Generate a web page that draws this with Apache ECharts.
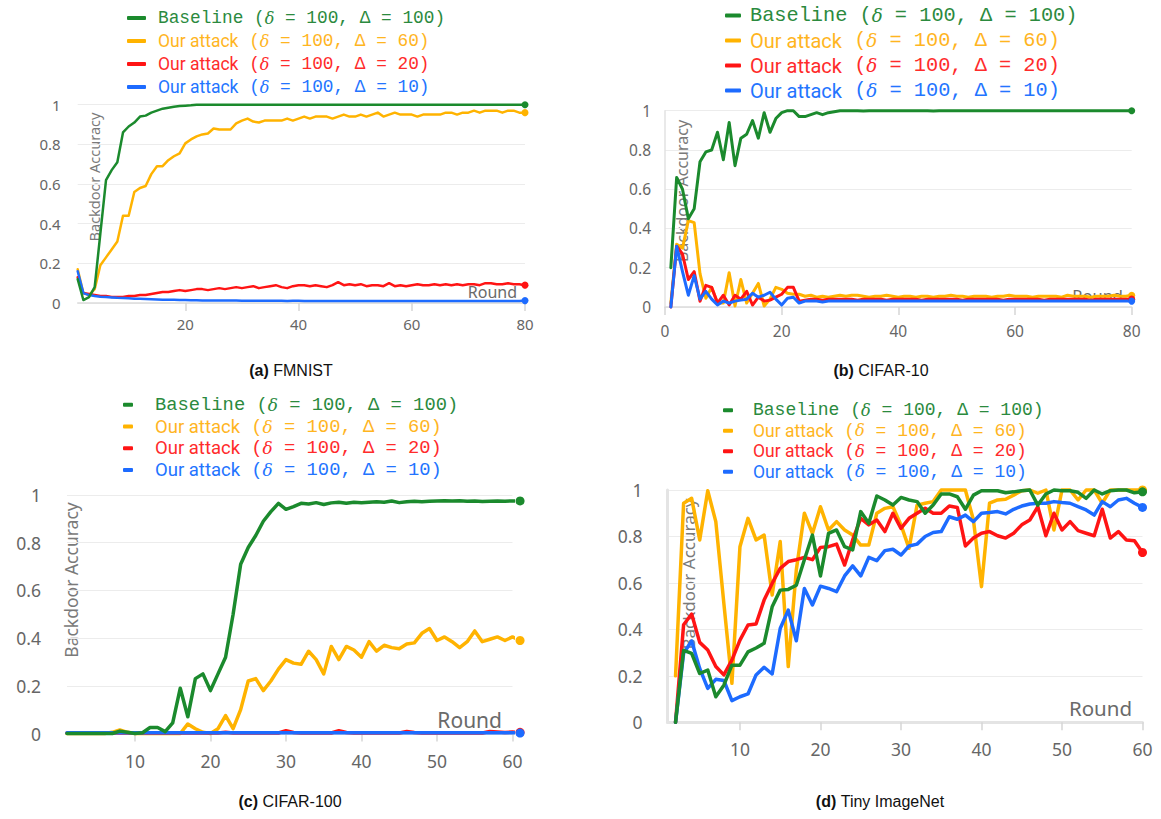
<!DOCTYPE html>
<html>
<head>
<meta charset="utf-8">
<script src="https://cdn.jsdelivr.net/npm/echarts@6/dist/echarts.min.js"></script>
<style>html,body{margin:0;background:#fff}#c{width:1161px;height:819px}</style>
</head>
<body>
<div id="c"></div>
<script>
// 四个子图的数据(按轮次),从原图读出的近似值

const names = ['Baseline (δ = 100, Δ = 100)', 'Our attack (δ = 100, Δ = 60)', 'Our attack (δ = 100, Δ = 20)', 'Our attack (δ = 100, Δ = 10)']
const lineColors = ['#1b8a2d', '#ffb300', '#ff1414', '#1d6bff']
const textColors = ['#2b8a3e', '#ffb51f', '#ff2b2b', '#2374ff']

// (a) FMNIST — rounds 1..80
const fmStart = 1
const fmGreen = [0.12,0.015,0.03,0.08,0.35,0.62,0.67,0.71,0.86,0.89, 0.91,0.94,0.945,0.96,0.97,0.98,0.985,0.99,0.993,0.995, 0.997,1,1,1,1,1,1,1,1,1, 1,1,1,1,1,1,1,1,1,1, 1,1,1,1,1,1,1,1,1,1, 1,1,1,1,1,1,1,1,1,1, 1,1,1,1,1,1,1,1,1,1, 1,1,1,1,1,1,1,1,1,1]
const fmYellow = [0.17,0.05,0.04,0.07,0.19,0.23,0.27,0.31,0.44,0.44, 0.56,0.58,0.59,0.65,0.69,0.69,0.72,0.74,0.755,0.805, 0.825,0.84,0.85,0.855,0.88,0.875,0.875,0.875,0.906,0.92, 0.93,0.915,0.91,0.92,0.92,0.92,0.92,0.93,0.92,0.93, 0.94,0.93,0.94,0.94,0.94,0.93,0.94,0.95,0.94,0.94, 0.95,0.94,0.95,0.96,0.94,0.95,0.96,0.95,0.95,0.95, 0.94,0.95,0.95,0.95,0.95,0.96,0.96,0.95,0.96,0.96, 0.97,0.96,0.97,0.97,0.97,0.96,0.97,0.97,0.96,0.96]
const fmRed = [0.13,0.05,0.045,0.04,0.035,0.035,0.03,0.03,0.03,0.035, 0.035,0.04,0.04,0.045,0.05,0.055,0.055,0.06,0.065,0.06, 0.065,0.07,0.07,0.065,0.07,0.075,0.07,0.075,0.08,0.075, 0.08,0.085,0.075,0.08,0.085,0.09,0.08,0.075,0.085,0.09, 0.09,0.085,0.09,0.085,0.08,0.09,0.105,0.09,0.095,0.09, 0.095,0.085,0.09,0.09,0.085,0.1,0.085,0.09,0.085,0.09, 0.095,0.09,0.09,0.095,0.09,0.095,0.09,0.095,0.09,0.095, 0.095,0.09,0.1,0.1,0.095,0.095,0.1,0.095,0.095,0.09]
const fmBlue = [0.16,0.05,0.04,0.035,0.032,0.03,0.028,0.026,0.025,0.024, 0.022,0.021,0.02,0.019,0.018,0.017,0.016,0.016,0.015,0.015, 0.014,0.014,0.013,0.013,0.013,0.012,0.012,0.012,0.012,0.011, 0.011,0.011,0.011,0.011,0.011,0.011,0.011,0.01,0.011,0.011, 0.01,0.01,0.01,0.01,0.01,0.01,0.01,0.01,0.01,0.01, 0.01,0.01,0.01,0.01,0.01,0.01,0.01,0.01,0.01,0.01, 0.01,0.01,0.01,0.01,0.01,0.01,0.01,0.01,0.01,0.01, 0.01,0.01,0.01,0.01,0.01,0.01,0.01,0.01,0.01,0.012]

// (b) CIFAR-10 — rounds 1..80
const c10Start = 1
const c10Green = [0.2,0.66,0.6,0.45,0.5,0.74,0.79,0.8,0.89,0.75, 0.94,0.72,0.86,0.88,0.95,0.86,0.99,0.89,0.96,0.99, 1,1,0.97,0.97,0.98,0.99,0.98,0.99,0.995,1, 1,1,1,0.998,1,1,1,1,1,1, 1,1,1,1,1,0.998,1,1,1,1, 1,1,1,1,1,1,1,1,1,1, 1,1,1,1,1,1,1,1,1,1, 1,1,1,1,1,1,1,1,1,1]
const c10Yellow = [0.02,0.32,0.3,0.44,0.43,0.17,0.045,0.1,0.02,0.02, 0.175,0.005,0.14,0.02,0.07,0.12,0.005,0.04,0.1,0.09, 0.07,0.065,0.065,0.055,0.06,0.05,0.055,0.05,0.055,0.06, 0.055,0.06,0.06,0.055,0.05,0.055,0.055,0.06,0.055,0.05, 0.055,0.055,0.05,0.055,0.055,0.05,0.055,0.055,0.06,0.055, 0.055,0.05,0.055,0.055,0.055,0.05,0.055,0.055,0.06,0.055, 0.055,0.055,0.05,0.055,0.055,0.055,0.055,0.05,0.06,0.055, 0.055,0.055,0.05,0.055,0.055,0.055,0.06,0.055,0.055,0.06]
const c10Red = [0,0.31,0.27,0.14,0.18,0.03,0.11,0.1,0.02,0.06, 0.01,0.06,0.04,0.08,0.01,0.05,0.03,0.035,0.05,0.065, 0.1,0.1,0.03,0.035,0.04,0.04,0.035,0.04,0.04,0.04, 0.04,0.04,0.035,0.04,0.04,0.04,0.04,0.035,0.04,0.04, 0.04,0.04,0.04,0.035,0.04,0.04,0.04,0.04,0.04,0.04, 0.035,0.04,0.04,0.04,0.04,0.04,0.04,0.035,0.04,0.04, 0.04,0.04,0.04,0.04,0.035,0.04,0.04,0.04,0.04,0.04, 0.04,0.04,0.035,0.04,0.04,0.04,0.04,0.04,0.04,0.04]
const c10Blue = [0,0.31,0.18,0.06,0.16,0.04,0.08,0.04,0.01,0.03, 0.02,0.03,0.035,0.04,0.07,0.05,0.06,0.075,0.04,0.01, 0.045,0.05,0.02,0.03,0.03,0.03,0.025,0.03,0.03,0.03, 0.03,0.03,0.03,0.03,0.03,0.03,0.03,0.03,0.03,0.03, 0.03,0.03,0.03,0.03,0.03,0.03,0.03,0.03,0.03,0.03, 0.03,0.03,0.03,0.03,0.03,0.03,0.03,0.03,0.03,0.03, 0.03,0.03,0.03,0.03,0.03,0.03,0.03,0.03,0.03,0.03, 0.03,0.03,0.03,0.03,0.03,0.03,0.03,0.03,0.03,0.03]

// (c) CIFAR-100 — rounds 1..61
const c100Start = 1
const c100Green = [0,0,0,0,0,0,0,0.01,0.005,0, 0.003,0.025,0.025,0.008,0.045,0.19,0.07,0.23,0.25,0.18, 0.25,0.32,0.5,0.71,0.78,0.83,0.89,0.93,0.965,0.94, 0.951,0.965,0.962,0.968,0.96,0.967,0.97,0.965,0.97,0.968, 0.97,0.972,0.97,0.975,0.968,0.972,0.974,0.972,0.974,0.975, 0.976,0.975,0.976,0.974,0.975,0.973,0.974,0.975,0.974,0.975, 0.975]
const c100Yellow = [0,0,0,0,0,0,0.005,0.015,0.005,0, 0,0,0,0,0,0,0.04,0.02,0.005,0, 0.02,0.075,0.02,0.1,0.22,0.23,0.18,0.22,0.27,0.31, 0.295,0.29,0.345,0.31,0.25,0.365,0.31,0.365,0.35,0.32, 0.385,0.345,0.37,0.36,0.355,0.375,0.38,0.42,0.44,0.39, 0.405,0.385,0.36,0.385,0.43,0.385,0.395,0.405,0.39,0.405, 0.39]
const c100Red = [0.002,0.002,0.002,0.002,0.002,0.002,0.002,0.002,0.002,0.002, 0.002,0.002,0.002,0.002,0.002,0.002,0.002,0.002,0.002,0.002, 0.002,0.005,0.002,0.002,0.002,0.002,0.002,0.002,0.002,0.012, 0.004,0.002,0.002,0.002,0.002,0.002,0.012,0.004,0.002,0.002, 0.002,0.002,0.002,0.002,0.002,0.008,0.004,0.002,0.002,0.002, 0.002,0.002,0.002,0.002,0.002,0.002,0.008,0.006,0.004,0.006, 0.005]
const c100Blue = [0.003,0.003,0.003,0.003,0.003,0.003,0.003,0.003,0.003,0.003, 0.003,0.003,0.003,0.003,0.003,0.003,0.003,0.003,0.003,0.003, 0.003,0.003,0.003,0.003,0.003,0.003,0.003,0.003,0.003,0.003, 0.003,0.003,0.003,0.003,0.003,0.003,0.003,0.003,0.003,0.003, 0.003,0.003,0.003,0.003,0.003,0.003,0.003,0.003,0.003,0.003, 0.003,0.003,0.003,0.003,0.003,0.003,0.003,0.003,0.003,0.003, 0.002]

// (d) Tiny ImageNet — rounds 2..60
const tinStart = 2
const tinGreen = [0,0.31,0.297,0.21,0.225,0.11,0.16,0.246,0.246,0.303, 0.32,0.34,0.497,0.569,0.572,0.59,0.7,0.806,0.63,0.813, 0.828,0.756,0.742,0.907,0.857,0.974,0.957,0.935,0.968,0.957, 0.95,0.9,0.935,0.983,0.983,0.971,0.917,0.978,0.997,0.997, 0.997,0.988,0.992,0.997,1,0.935,0.983,1,0.997,0.997, 0.99,0.964,1,0.983,0.997,1,1,0.988,0.992]
const tinYellow = [0.2,0.943,0.964,0.785,0.997,0.864,0.512,0.168,0.756,0.878, 0.785,0.806,0.548,0.778,0.24,0.656,0.9,0.813,0.928,0.828, 0.864,0.828,0.806,0.763,0.763,0.9,0.921,0.928,0.85,0.749, 0.935,0.943,0.95,1,1,1,1,0.871,0.584,0.943, 0.957,0.96,0.978,0.997,1,0.986,1,0.828,1,1, 0.957,1,1,0.943,1,1,1,1,1]
const tinRed = [0,0.42,0.466,0.344,0.311,0.24,0.204,0.268,0.354,0.419, 0.423,0.526,0.598,0.663,0.692,0.7,0.71,0.7,0.753,0.756, 0.767,0.677,0.785,0.878,0.85,0.871,0.821,0.9,0.835,0.878, 0.9,0.921,0.9,0.9,0.931,0.925,0.759,0.793,0.814,0.821, 0.803,0.793,0.814,0.85,0.871,0.928,0.803,0.9,0.828,0.864, 0.825,0.814,0.803,0.917,0.793,0.821,0.785,0.782,0.731]
const tinBlue = [0,0.297,0.35,0.232,0.146,0.185,0.18,0.093,0.11,0.122, 0.204,0.237,0.208,0.404,0.483,0.351,0.576,0.505,0.586,0.576, 0.562,0.63,0.673,0.63,0.71,0.696,0.739,0.745,0.72,0.759, 0.767,0.8,0.817,0.821,0.885,0.874,0.892,0.864,0.9,0.903, 0.907,0.897,0.917,0.931,0.94,0.943,0.943,0.95,0.946,0.943, 0.928,0.914,0.892,0.95,0.928,0.957,0.964,0.943,0.925]

// 版式:每个子图的网格、坐标轴、图例、文字位置
const panels = [
  { start: fmStart, data: [fmGreen, fmYellow, fmRed, fmBlue], cap: ['(a)', 'FMNIST'], capX: 291, capY: 370,
    grid: { left: 77.7, top: 104.7, width: 447.3, height: 198.3 }, xMin: 1, xMax: 80, xTicks: [20, 40, 60, 80],
    lw: 2.5, dot: 7, fs: 15, yMargin: 17, xMargin: 13, yLine: null, xLine: ['#dcdcdc', 1.5],
    lg: { left: 127, top: 6.5, lh: 23, mono: 17.8, sans: 17.5, iw: 19, pad: 7 },
    yName: [94, 177, 14.5], round: [517, 291.5, 16] },
  { start: c10Start, data: [c10Green, c10Yellow, c10Red, c10Blue], cap: ['(b)', 'CIFAR-10'], capX: 881, capY: 370,
    grid: { left: 665, top: 110.7, width: 466.7, height: 196.3 }, xMin: 0, xMax: 80, xTicks: [0, 20, 40, 60, 80],
    lw: 3, dot: 7, fs: 15.5, yMargin: 14, xMargin: 16, yLine: ['#e2e2e2', 1.5], xLine: ['#dcdcdc', 1.5],
    lg: { left: 725, top: 3, lh: 25, mono: 20.3, sans: 20, iw: 16, pad: 4 },
    yName: [682, 191, 16], round: [1123, 295, 16.5] },
  { start: c100Start, data: [c100Green, c100Yellow, c100Red, c100Blue], cap: ['(c)', 'CIFAR-100'], capX: 290, capY: 801,
    grid: { left: 67, top: 495, width: 445.5, height: 238.5 }, xMin: 1, xMax: 60, xTicks: [10, 20, 30, 40, 50, 60],
    lw: 3.5, dot: 9, fs: 17.5, yMargin: 26, xMargin: 18, yLine: null, xLine: ['#dadada', 2],
    lg: { left: 123, top: 394, lh: 21.7, mono: 18.8, sans: 18.5, iw: 10, pad: 17 },
    yName: [71, 580, 17.5], round: [502, 720, 21] },
  { start: tinStart, data: [tinGreen, tinYellow, tinRed, tinBlue], cap: ['(d)', 'Tiny ImageNet'], capX: 880, capY: 801,
    grid: { left: 667.5, top: 490, width: 475, height: 232.3 }, xMin: 1, xMax: 60, xTicks: [10, 20, 30, 40, 50, 60],
    lw: 3.5, dot: 9, fs: 17.5, yMargin: 25, xMargin: 18, yLine: ['#e4e4e4', 3], xLine: ['#e4e4e4', 3],
    lg: { left: 723, top: 400, lh: 20.5, mono: 18, sans: 17.5, iw: 10, pad: 15 },
    yName: [688, 574, 17], round: [1132, 708, 20.5] }
]

// 图例文字:「Our attack」用比例字体,括号部分用等宽字体,δ 斜体
function legendText(n){
  const k = n.indexOf('(')
  const head = n.slice(0, k).trim(), tail = n.slice(k + 2)
  const h = head === 'Baseline' ? '{m|Baseline (}' : '{s|' + head + '}{m| (}'
  return h + '{i|δ}{m|' + tail + '}'
}

const grid = [], xAxis = [], yAxis = [], series = [], legend = [], graphic = []
const grayText = '#666'

panels.forEach((p, k) => {
  grid.push(Object.assign({ outerBoundsMode: 'none', containLabel: false }, p.grid))
  xAxis.push({
    type: 'value', gridIndex: k, min: p.xMin, max: p.xMax,
    axisLine: { show: true, lineStyle: { color: p.xLine[0], width: p.xLine[1] } },
    axisTick: { show: true, customValues: p.xTicks, length: 8, lineStyle: { color: '#d6d6d6', width: 1.5 } },
    axisLabel: { customValues: p.xTicks, color: grayText, fontSize: p.fs, fontFamily: 'Noto Sans', margin: p.xMargin },
    splitLine: { show: false }
  })
  yAxis.push({
    type: 'value', gridIndex: k, min: 0, max: 1, interval: 0.2,
    axisLine: p.yLine ? { show: true, lineStyle: { color: p.yLine[0], width: p.yLine[1] } } : { show: false },
    axisTick: { show: false },
    axisLabel: { color: grayText, fontSize: p.fs, fontFamily: 'Noto Sans', margin: p.yMargin },
    splitLine: { show: true, lineStyle: { color: '#ececec', width: 1 } }
  })
  // 先画黄/红/蓝,最后画绿线(原图中绿线在最上层)
  ;[1, 2, 3, 0].forEach(i => {
    const vals = p.data[i]
    const last = vals.length - 1
    series.push({
      name: names[i], type: 'line', xAxisIndex: k, yAxisIndex: k,
      data: vals.map((v, j) => [p.start + j, v]),
      symbol: 'circle', showAllSymbol: true,
      symbolSize: (v, prm) => prm.dataIndex === last ? p.dot : 0,
      itemStyle: { color: lineColors[i] },
      lineStyle: { color: lineColors[i], width: p.lw, cap: 'round', join: 'round' },
      clip: false, animation: false, silent: true
    })
  })
  const L = p.lg
  legend.push({
    orient: 'vertical', left: L.left, top: L.top, padding: 0, itemGap: 0,
    itemWidth: L.iw, itemHeight: 4, icon: 'roundRect', selectedMode: false,
    formatter: legendText,
    data: names.map((n, i) => ({
      name: n, itemStyle: { color: lineColors[i] },
      textStyle: {
        color: textColors[i], padding: [0, 0, 0, L.pad], lineHeight: L.lh,
        rich: {
          m: { fontFamily: 'Liberation Mono', fontSize: L.mono, color: textColors[i], lineHeight: L.lh },
          s: { fontFamily: 'Roboto', fontSize: L.sans, color: textColors[i], lineHeight: L.lh },
          i: { fontFamily: 'DejaVu Serif', fontStyle: 'italic', fontSize: L.mono * 0.9, color: textColors[i], lineHeight: L.lh }
        }
      }
    }))
  })
  // 纵轴名(旋转,在绘图区内)
  graphic.push({
    type: 'text', x: p.yName[0], y: p.yName[1], rotation: Math.PI / 2, silent: true,
    style: { text: 'Backdoor Accuracy', align: 'center', verticalAlign: 'middle',
      fill: '#7a7a7a', fontSize: p.yName[2], fontFamily: 'Noto Sans' }
  })
  // 横轴名
  graphic.push({
    type: 'text', x: p.round[0], y: p.round[1], silent: true,
    style: { text: 'Round', align: 'right', verticalAlign: 'middle',
      fill: '#6a6a6a', fontSize: p.round[2], fontFamily: 'Noto Sans' }
  })
  // 子图标题
  graphic.push({
    type: 'text', x: p.capX, y: p.capY, silent: true,
    style: {
      text: '{b|' + p.cap[0] + '} {n|' + p.cap[1] + '}', align: 'center', verticalAlign: 'middle',
      fill: '#111', fontSize: 16, fontFamily: 'Liberation Sans',
      rich: {
        b: { fontWeight: 'bold', fontSize: 16, fontFamily: 'Liberation Sans', fill: '#111' },
        n: { fontSize: 16, fontFamily: 'Liberation Sans', fill: '#111' }
      }
    }
  })
})

const chart = echarts.init(document.getElementById('c'), null, { renderer: 'svg' })
chart.setOption({
  backgroundColor: '#fff',
  animation: false,
  grid, xAxis, yAxis, series, legend, graphic
})
</script>
</body>
</html>
